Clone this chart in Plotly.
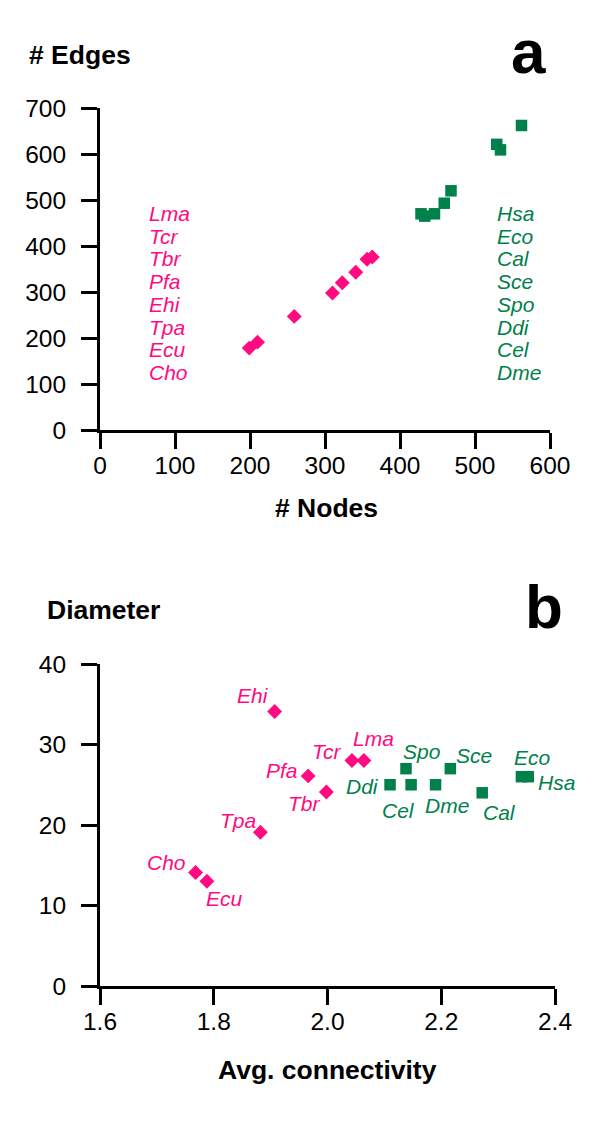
import plotly.graph_objects as go

# ---------------- data ----------------
# Panel a: network size (nodes vs edges)
pink_nodes = [199, 210, 259, 310, 323, 341, 356, 363]
pink_edges = [178, 191, 247, 298, 320, 343, 371, 376]
green_nodes = [428, 433, 446, 459, 468, 529, 534, 562]
green_edges = [470, 465, 470, 493, 520, 621, 609, 662]
pink_list = ["Lma", "Tcr", "Tbr", "Pfa", "Ehi", "Tpa", "Ecu", "Cho"]
green_list = ["Hsa", "Eco", "Cal", "Sce", "Spo", "Ddi", "Cel", "Dme"]

# Panel b: average connectivity vs diameter
pink_species = ["Ehi", "Tcr", "Lma", "Pfa", "Tbr", "Tpa", "Cho", "Ecu"]
pink_conn = [1.907, 2.043, 2.064, 1.966, 1.998, 1.882, 1.768, 1.788]
pink_diam = [34.1, 28.0, 28.0, 26.1, 24.1, 19.1, 14.1, 13.0]
green_species = ["Ddi", "Spo", "Cel", "Dme", "Sce", "Cal", "Eco", "Hsa"]
green_conn = [2.110, 2.138, 2.147, 2.190, 2.216, 2.272, 2.341, 2.353]
green_diam = [25.0, 27.0, 25.0, 25.0, 27.0, 24.0, 26.0, 26.0]

xticks_a = [0, 100, 200, 300, 400, 500, 600]
yticks_a = [0, 100, 200, 300, 400, 500, 600, 700]
xticks_b = [1.6, 1.8, 2.0, 2.2, 2.4]
xticklabels_b = ["1.6", "1.8", "2.0", "2.2", "2.4"]
yticks_b = [0, 10, 20, 30, 40]

# ---------------- styles ----------------
PINK = "#FF0A80"
GREEN = "#00804A"
FONT = "Liberation Sans, Arial, sans-serif"
TICKFONT = dict(family=FONT, size=24.5, color="black")
LABELSIZE = 21
TITLESIZE = 26.5

# label offsets (px) for panel b, by species
pink_off = {"Ehi": (-22, 16), "Tcr": (-25, 9), "Lma": (10, 22), "Pfa": (-26, 5),
            "Tbr": (-22, -12), "Tpa": (-22, 12), "Cho": (-29, 10), "Ecu": (18, -17)}
green_off = {"Ddi": (-28, -2), "Spo": (16, 17), "Cel": (-13, -26), "Dme": (11, -21),
             "Sce": (24, 13), "Cal": (17, -20), "Eco": (11, 19), "Hsa": (28, -6)}

fig = go.Figure()

# Panel a markers
fig.add_trace(go.Scatter(x=pink_nodes, y=pink_edges, mode="markers",
                         marker=dict(symbol="diamond", size=11.5, color=PINK),
                         xaxis="x", yaxis="y", showlegend=False, cliponaxis=False))
fig.add_trace(go.Scatter(x=green_nodes, y=green_edges, mode="markers",
                         marker=dict(symbol="square", size=11.5, color=GREEN),
                         xaxis="x", yaxis="y", showlegend=False, cliponaxis=False))
# Panel b markers
fig.add_trace(go.Scatter(x=pink_conn, y=pink_diam, mode="markers",
                         marker=dict(symbol="diamond", size=11.5, color=PINK),
                         xaxis="x2", yaxis="y2", showlegend=False, cliponaxis=False))
fig.add_trace(go.Scatter(x=green_conn, y=green_diam, mode="markers",
                         marker=dict(symbol="square", size=11.5, color=GREEN),
                         xaxis="x2", yaxis="y2", showlegend=False, cliponaxis=False))

annotations = []
# panel a species lists
row_top = 471
row_step = 49.5
for i, name in enumerate(pink_list):
    annotations.append(dict(x=62, y=row_top - i * row_step, xref="x", yref="y",
                            text=name, showarrow=False, xanchor="left", yanchor="middle",
                            font=dict(family=FONT, size=LABELSIZE, color=PINK, style="italic")))
for i, name in enumerate(green_list):
    annotations.append(dict(x=527, y=row_top - i * row_step, xref="x", yref="y",
                            text=name, showarrow=False, xanchor="left", yanchor="middle",
                            font=dict(family=FONT, size=LABELSIZE, color=GREEN, style="italic")))
# panel b species labels
for name, xv, yv in zip(pink_species, pink_conn, pink_diam):
    dx, dy = pink_off[name]
    annotations.append(dict(x=xv, y=yv, xref="x2", yref="y2", text=name, showarrow=False,
                            xshift=dx, yshift=dy,
                            font=dict(family=FONT, size=LABELSIZE, color=PINK, style="italic")))
for name, xv, yv in zip(green_species, green_conn, green_diam):
    dx, dy = green_off[name]
    annotations.append(dict(x=xv, y=yv, xref="x2", yref="y2", text=name, showarrow=False,
                            xshift=dx, yshift=dy,
                            font=dict(family=FONT, size=LABELSIZE, color=GREEN, style="italic")))

H = 1125.0
W = 600.0
OFF = 8.0  # page body margin


def fx(p):
    return (p - OFF) / W


def fy(p):
    return 1 - (p - OFF) / H


titles = [
    ("# Edges", 27, 55, "left"),
    ("# Nodes", 326, 508, "center"),
    ("Diameter", 45, 610, "left"),
    ("Avg. connectivity", 327, 1070, "center"),
]
for t, xx, yy, xa in titles:
    annotations.append(dict(x=fx(xx), y=fy(yy), xref="paper", yref="paper",
                            text="<b>" + t + "</b>",
                            showarrow=False, xanchor=xa, yanchor="middle",
                            font=dict(family=FONT, size=TITLESIZE, color="black")))
annotations.append(dict(x=fx(528), y=fy(52), xref="paper", yref="paper", text="<b>a</b>",
                        showarrow=False, xanchor="center", yanchor="middle",
                        font=dict(family=FONT, size=62, color="black")))
annotations.append(dict(x=fx(544), y=fy(606), xref="paper", yref="paper", text="<b>b</b>",
                        showarrow=False, xanchor="center", yanchor="middle",
                        font=dict(family=FONT, size=62, color="black")))

axis_common = dict(showline=True, linecolor="black", linewidth=3, ticks="outside",
                   ticklen=16, tickwidth=3, tickcolor="black", showgrid=False,
                   zeroline=False, tickfont=TICKFONT, fixedrange=True,
                   automargin=False)

fig.update_layout(
    width=600, height=1125,
    autosize=False,
    margin=dict(l=0, r=0, t=0, b=0, pad=0, autoexpand=False),
    paper_bgcolor="white", plot_bgcolor="white",
    showlegend=False,
    xaxis=dict(domain=[fx(100), fx(550)], range=[0, 600], tickvals=xticks_a,
               anchor="y", ticklabelstandoff=-4, **axis_common),
    yaxis=dict(domain=[fy(430), fy(108)], range=[0, 700], tickvals=yticks_a,
               anchor="x", ticklabelstandoff=10, **axis_common),
    xaxis2=dict(domain=[fx(100), fx(555)], range=[1.6, 2.4], tickvals=xticks_b,
                ticktext=xticklabels_b, anchor="y2", ticklabelstandoff=-4, **axis_common),
    yaxis2=dict(domain=[fy(986), fy(664)], range=[0, 40], tickvals=yticks_b,
                anchor="x2", ticklabelstandoff=10, **axis_common),
    annotations=annotations,
)

fig.write_html("out.html")
